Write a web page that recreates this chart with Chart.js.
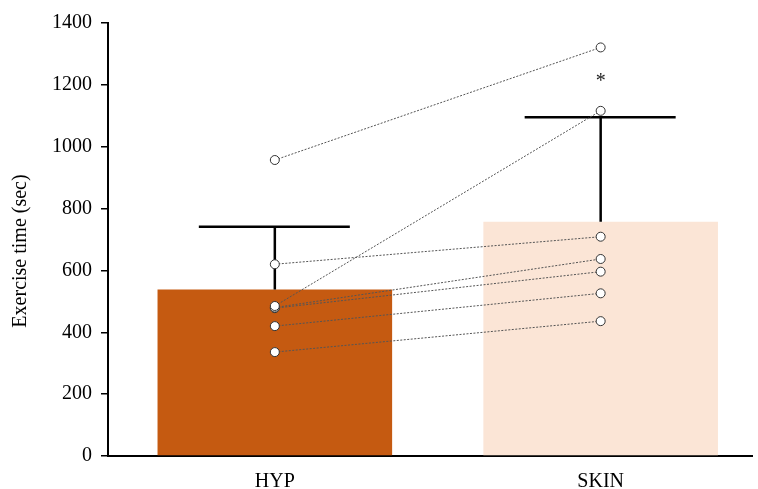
<!DOCTYPE html>
<html>
<head>
<meta charset="utf-8">
<script src="https://cdn.jsdelivr.net/npm/chart.js@4"></script>
<style>
html,body{margin:0;padding:0;background:#fff;}
#wrap{width:758px;height:489px;}
</style>
</head>
<body>
<div id="wrap"><canvas id="c" width="758" height="489"></canvas></div>
<script>
const categories = ["HYP", "SKIN"];
const meanValues = [538, 757];
const sdValues = [203, 338];
const hypValues = [957, 620, 485, 480, 478, 420, 336];
const skinValues = [1321, 709, 1116, 637, 596, 526, 436];
const yTicks = [0, 200, 400, 600, 800, 1000, 1200, 1400];
const barColors = ["#C55A11", "#FBE5D6"];
const yTitle = "Exercise time (sec)";
const significance = "*";
const sigValue = 1222;

const serif = "Liberation Serif";

function build() {
const datasets = [];
datasets.push({
  type: 'bar',
  data: meanValues.map((v, i) => ({x: i + 1, y: v})),
  backgroundColor: barColors,
  borderWidth: 0,
  barPercentage: 0.72,
  categoryPercentage: 1,
  order: 10
});
hypValues.forEach((h, i) => {
  datasets.push({
    type: 'line',
    data: [{x: 1, y: h}, {x: 2, y: skinValues[i]}],
    borderColor: '#555',
    borderWidth: 1,
    borderDash: [2, 1.5],
    pointRadius: 4.5,
    pointBackgroundColor: '#fff',
    pointBorderColor: '#333',
    pointBorderWidth: 1,
    fill: false,
    order: 1
  });
});

const errorBars = {
  id: 'errorBars',
  afterDatasetDraw(chart, args) {
    if (args.index !== 0) return;
    const ctx = chart.ctx, xs = chart.scales.x, ys = chart.scales.y;
    ctx.save();
    ctx.strokeStyle = '#000';
    ctx.lineWidth = 2.5;
    meanValues.forEach((m, i) => {
      const x = xs.getPixelForValue(i + 1);
      const y0 = ys.getPixelForValue(m);
      const y1 = ys.getPixelForValue(m + sdValues[i]);
      ctx.beginPath();
      ctx.moveTo(x, y0); ctx.lineTo(x, y1);
      ctx.moveTo(x - 76, y1); ctx.lineTo(x + 75, y1);
      ctx.stroke();
    });
    ctx.restore();
  },
  afterDraw(chart) {
    const ctx = chart.ctx, xs = chart.scales.x, ys = chart.scales.y;
    ctx.save();
    ctx.fillStyle = '#222';
    ctx.font = '20px "' + serif + '"';
    ctx.textAlign = 'center';
    ctx.textBaseline = 'middle';
    ctx.fillText(significance, xs.getPixelForValue(2), ys.getPixelForValue(sigValue) + 4);
    ctx.restore();
    // y axis title
    ctx.save();
    ctx.fillStyle = '#000';
    ctx.font = '20px "' + serif + '"';
    ctx.textAlign = 'center';
    ctx.textBaseline = 'middle';
    ctx.translate(21, 251);
    ctx.rotate(-Math.PI / 2);
    ctx.fillText(yTitle, 0, 0);
    ctx.restore();
  }
};

new Chart(document.getElementById('c'), {
  type: 'bar',
  data: {datasets},
  plugins: [errorBars],
  options: {
    responsive: false,
    animation: false,
    events: [],
    layout: {padding: {top: 23, right: 1, left: 0, bottom: 0}},
    plugins: {legend: {display: false}, tooltip: {enabled: false}},
    scales: {
      x: {
        type: 'linear',
        offset: false,
        min: 0.488,
        max: 2.466,
        afterBuildTicks(scale) { scale.ticks = categories.map((c, i) => ({value: i + 1})); },
        afterFit(scale) { scale.height = 33; },
        ticks: {
          callback: (v) => categories[Math.round(v) - 1] || '',
          color: '#000',
          font: {family: '"' + serif + '"', size: 20},
          padding: 14,
          maxRotation: 0,
          autoSkip: false
        },
        grid: {drawOnChartArea: false, drawTicks: false},
        border: {display: true, color: '#000', width: 2}
      },
      y: {
        min: 0,
        max: 1400,
        afterBuildTicks(scale) { scale.ticks = yTicks.map(v => ({value: v})); },
        afterFit(scale) { scale.width = 108; },
        ticks: {
          callback: (v) => String(v),
          color: '#000',
          font: {family: '"' + serif + '"', size: 20},
          padding: 9
        },
        grid: {drawOnChartArea: false, drawTicks: true, tickLength: 7, color: '#000', lineWidth: 1.5},
        border: {display: true, color: '#000', width: 2},
        title: {display: false}
      }
    }
  }
});
}
if (document.fonts && document.fonts.load) {
  document.fonts.load('20px "' + serif + '"').then(build, build);
} else { build(); }
</script>
</body>
</html>
